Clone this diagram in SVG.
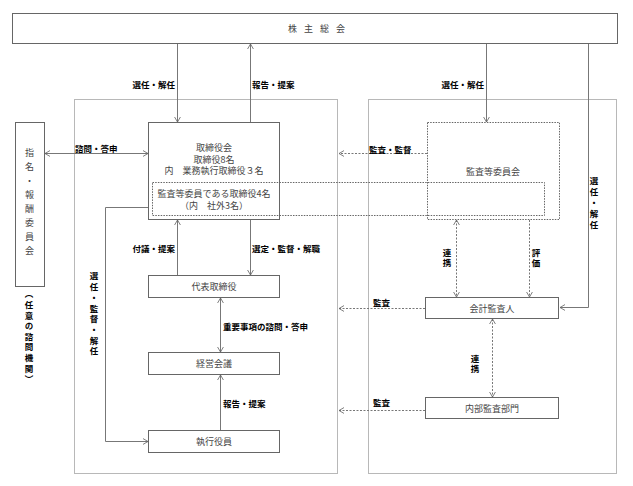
<svg xmlns="http://www.w3.org/2000/svg" width="633" height="486" viewBox="0 0 633 486">
<style>
.frame{fill:none;stroke:#b8b8b8;stroke-width:1}
.box{fill:#fff;stroke:#666;stroke-width:1}
.dbox{fill:none;stroke:#666;stroke-width:1;stroke-dasharray:1.5 1.2}
.ln{fill:none;stroke:#777;stroke-width:1}
.dl{fill:none;stroke:#777;stroke-width:1;stroke-dasharray:2 1.5}
.t{font-family:"Noto Sans CJK JP","Noto Sans CJK SC",sans-serif;font-size:9px;fill:#444}
.c{text-anchor:middle}
.l{font-family:"Noto Sans CJK JP","Noto Sans CJK SC",sans-serif;font-size:8.5px;font-weight:bold;fill:#000}
.e{text-anchor:end}
.v{writing-mode:vertical-rl}
</style>
<defs>
<marker id="a" viewBox="0 0 6 8" refX="6" refY="4" markerWidth="5" markerHeight="7" markerUnits="userSpaceOnUse" orient="auto-start-reverse">
<path d="M0,0.5 L6,4 L0,7.5" fill="none" stroke="#666" stroke-width="1"/>
</marker>
</defs>
<rect width="633" height="486" fill="#fff"/>
<g id="frames">
<rect class="frame" x="74.5" y="99.5" width="263" height="374"/>
<rect class="frame" x="368.5" y="99.5" width="248" height="374"/>
</g>
<g id="connectors">
<path class="ln" d="M177.5,44 V122" marker-end="url(#a)"/>
<path class="ln" d="M250.5,122 V44" marker-end="url(#a)"/>
<path class="ln" d="M486.5,44 V122" marker-end="url(#a)"/>
<path class="ln" d="M588.5,44 V307.5 H560" marker-end="url(#a)"/>
<path class="ln" d="M45,153.5 H148" marker-start="url(#a)" marker-end="url(#a)"/>
<path class="dl" d="M427,153.5 H339" marker-end="url(#a)"/>
<path class="ln" d="M177.5,275 V220" marker-end="url(#a)"/>
<path class="ln" d="M250.5,220 V275" marker-end="url(#a)"/>
<path class="ln" d="M220.5,298 V352" marker-start="url(#a)" marker-end="url(#a)"/>
<path class="ln" d="M220.5,430 V375" marker-end="url(#a)"/>
<path class="ln" d="M148,207.5 H105.5 V441.5 H148" marker-end="url(#a)"/>
<path class="dl" d="M456.5,220 V297" marker-start="url(#a)" marker-end="url(#a)"/>
<path class="dl" d="M529.5,220 V297" marker-end="url(#a)"/>
<path class="dl" d="M425,308.5 H339" marker-end="url(#a)"/>
<path class="dl" d="M492.5,319 V397" marker-start="url(#a)" marker-end="url(#a)"/>
<path class="dl" d="M425,410.5 H339" marker-end="url(#a)"/>
</g>
<g id="labels">
<text class="l e" x="175" y="88">選任・解任</text>
<text class="l" x="252" y="88">報告・提案</text>
<text class="l e" x="484" y="88">選任・解任</text>
<text class="l" x="75" y="152">諮問・答申</text>
<text class="l" x="369" y="153">監査・監督</text>
<text class="l e" x="175" y="252">付議・提案</text>
<text class="l" x="252" y="252">選定・監督・解職</text>
<text class="l" x="223" y="330">重要事項の諮問・答申</text>
<text class="l" x="223" y="407">報告・提案</text>
<text class="l" x="373" y="306">監査</text>
<text class="l" x="373" y="406">監査</text>
<text class="l v" x="94" y="272" style="letter-spacing:2.2px">選任・監督・解任</text>
<text class="l v" x="594" y="177" style="letter-spacing:2.5px">選任・解任</text>
<text class="l v" x="447" y="248.5" style="letter-spacing:1.5px">連携</text>
<text class="l v" x="536" y="248.5" style="letter-spacing:1.5px">評価</text>
<text class="l v" x="475" y="354.5" style="letter-spacing:1.5px">連携</text>
<text class="l v" x="29" y="290" style="letter-spacing:2.1px">（任意の諮問機関）</text>
</g>
<g id="n-shareholders">
<rect class="box" x="12.5" y="13.5" width="605" height="30"/>
<text class="t" x="288 304 320 336" y="32">株主総会</text>
</g>
<g id="n-nomination">
<rect class="box" x="15.5" y="122.5" width="29" height="164"/>
<text class="t v" x="29.5" y="148.5" style="letter-spacing:5px">指名・報酬委員会</text>
</g>
<g id="n-board">
<rect class="box" x="148.5" y="122.5" width="131" height="97"/>
<text class="t c" x="214" y="151">取締役会</text>
<text class="t c" x="214" y="162.5">取締役8名</text>
<text class="t c" x="214" y="174">内　業務執行取締役３名</text>
</g>
<g id="n-audit-committee">
<rect class="dbox" x="427.5" y="122.5" width="132" height="97"/>
<text class="t c" x="493" y="175">監査等委員会</text>
</g>
<g id="n-audit-directors">
<rect class="dbox" x="152.5" y="182.5" width="392" height="33"/>
<text class="t c" x="214" y="197">監査等委員である取締役4名</text>
<text class="t c" x="214" y="208.5">（内　社外3名）</text>
</g>
<g id="n-representative">
<rect class="box" x="148.5" y="275.5" width="131" height="22"/>
<text class="t c" x="214" y="290">代表取締役</text>
</g>
<g id="n-management">
<rect class="box" x="148.5" y="352.5" width="131" height="22"/>
<text class="t c" x="214" y="367">経営会議</text>
</g>
<g id="n-officers">
<rect class="box" x="148.5" y="430.5" width="131" height="22"/>
<text class="t c" x="214" y="445">執行役員</text>
</g>
<g id="n-accounting-auditor">
<rect class="box" x="425.5" y="297.5" width="133" height="21"/>
<text class="t c" x="492" y="311.5">会計監査人</text>
</g>
<g id="n-internal-audit">
<rect class="box" x="425.5" y="397.5" width="133" height="21"/>
<text class="t c" x="492" y="411.5">内部監査部門</text>
</g>
</svg>
